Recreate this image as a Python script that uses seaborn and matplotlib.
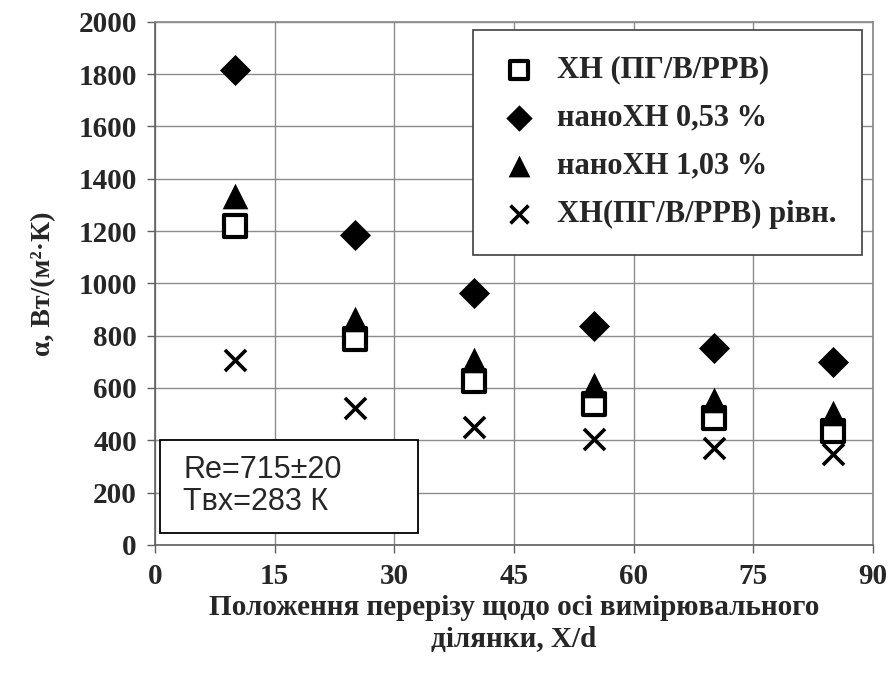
import matplotlib
matplotlib.use("Agg")
import matplotlib.pyplot as plt
import matplotlib.patches as mpatches
import seaborn as sns
import pandas as pd

x_pos = [10, 25, 40, 55, 70, 85]
s_xn = [1220, 788, 627, 539, 486, 436]
s_nano053 = [1815, 1185, 964, 837, 753, 700]
s_nano103 = [1335, 864, 707, 612, 554, 505]
s_xn_eq = [707, 524, 451, 405, 371, 348]
labels = ["ХН (ПГ/В/РРВ)", "наноХН 0,53 %", "наноХН 1,03 %", "ХН(ПГ/В/РРВ) рівн."]
x_ticks = [0, 15, 30, 45, 60, 75, 90]
y_ticks = list(range(0, 2001, 200))

rows = []
for lab, vals in zip(labels, [s_xn, s_nano053, s_nano103, s_xn_eq]):
    for xv, yv in zip(x_pos, vals):
        rows.append({"x": xv, "y": yv, "series": lab})
df = pd.DataFrame(rows)

sns.set_theme(style="white")
plt.rcParams['font.family'] = ['Liberation Serif', 'DejaVu Serif']

fig = plt.figure(figsize=(8.91, 6.82), dpi=100)
ax = fig.add_axes([0.174, 0.201, 0.806, 0.767])

ax.grid(True, color="#8c8c8c", linewidth=1.0)
ax.set_axisbelow(True)

styles = {
    labels[0]: dict(marker="s", s=250, facecolor="white", edgecolor="black", linewidth=3.0),
    labels[1]: dict(marker="D", s=250, facecolor="black", edgecolor="black", linewidth=0),
    labels[2]: dict(marker="^", s=340, facecolor="black", edgecolor="black", linewidth=0),
    labels[3]: dict(marker="x", s=230, color="black", linewidth=2.6),
}
for lab in labels:
    sub = df[df.series == lab]
    st = styles[lab]
    sns.scatterplot(data=sub, x="x", y="y", ax=ax, label=lab, zorder=3, **st)

ax.set_xlim(0, 90)
ax.set_ylim(0, 2000)
ax.set_xticks(x_ticks)
ax.set_yticks(y_ticks)
for t in ax.get_xticklabels() + ax.get_yticklabels():
    t.set_fontweight("bold")
    t.set_fontsize(21)
ax.tick_params(axis="both", which="both", direction="out", length=6, width=1, color="#606060",
               bottom=True, left=True, pad=7)
ax.set_xlabel("Положення перерізу щодо осі вимірювального\nділянки, X/d",
              fontsize=21, fontweight="bold", labelpad=3, linespacing=1.25)
ax.set_ylabel("α, Вт/(м²·К)", fontsize=20, fontweight="bold", labelpad=16)

for sp in ["top", "right"]:
    ax.spines[sp].set_color("#8c8c8c")
for sp in ["left", "bottom"]:
    ax.spines[sp].set_color("#606060")
    ax.spines[sp].set_linewidth(1.2)

leg = ax.legend(loc="upper right", bbox_to_anchor=(0.985, 0.985), frameon=True, fancybox=False,
                prop={"family": ["Liberation Serif", "DejaVu Serif"], "weight": "bold", "size": 22},
                borderpad=0.85, labelspacing=0.62, handletextpad=0.6, markerscale=0.85,
                handlelength=1.3, borderaxespad=0.0)
leg.get_frame().set_edgecolor("#404040")
leg.get_frame().set_linewidth(1.2)
leg.get_frame().set_alpha(1)

rect = mpatches.Rectangle((0.007, 0.023), 0.359, 0.178, transform=ax.transAxes,
                          facecolor="white", edgecolor="black", linewidth=1.3, zorder=4)
ax.add_patch(rect)
ax.text(0.039, 0.112, "Re=715±20\nTвх=283 К", transform=ax.transAxes,
        fontsize=22, family=["Liberation Sans", "DejaVu Sans"], va="center", ha="left",
        linespacing=1.1, zorder=5)

fig.savefig("out.png", dpi=100)
